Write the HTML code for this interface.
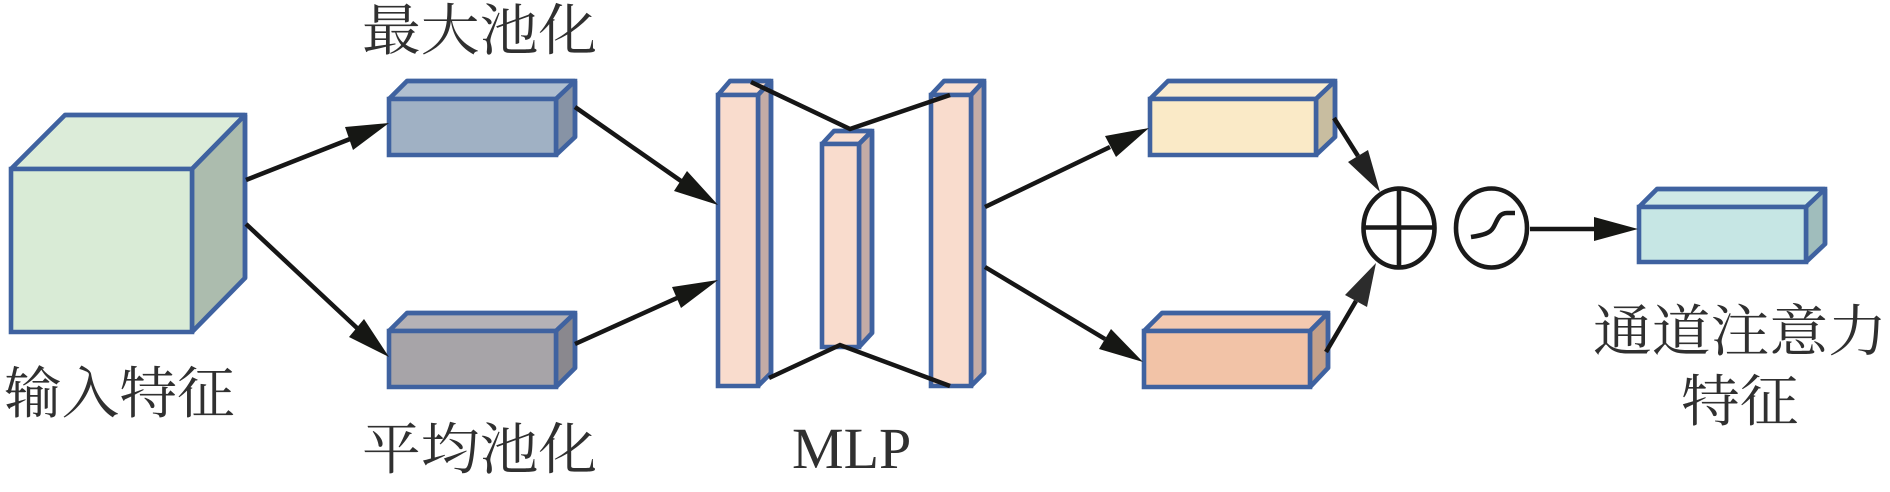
<!DOCTYPE html>
<html lang="zh"><head><meta charset="utf-8"><title>通道注意力</title>
<style>html,body{margin:0;padding:0;background:#fff;width:1890px;height:492px;overflow:hidden}svg{display:block}
text{font-family:"Liberation Serif","Noto Serif CJK SC",serif;fill:#303030}
.b polygon{stroke:#3f62a0;stroke-width:4.6;stroke-linejoin:miter;stroke-miterlimit:1.5}
.b polyline{stroke:#3f62a0;stroke-width:4.6;fill:none;stroke-linejoin:miter}
.l{stroke:#161616;stroke-width:4.5;fill:none}
.h{fill:#161714;stroke:none}
</style></head><body>
<svg width="1890" height="492" viewBox="0 0 1890 492" xmlns="http://www.w3.org/2000/svg">
<!-- cube -->
<g class="b">
<polygon fill="#dcecd9" points="11,169 65,115 245,115 192,169"/>
<polygon fill="#acbcae" points="192,169 245,115 245,278 192,332"/>
<polygon fill="#d9ebd6" points="11,169 192,169 192,332 11,332"/>
<polyline points="65,115 245,115 245,278"/>
</g>
<!-- box1 -->
<g class="b">
<polygon fill="#b0bfd0" points="389,99 407,81 575,81 556,99"/>
<polygon fill="#8793a5" points="556,99 575,81 575,137 556,155"/>
<polygon fill="#a0b1c4" points="389,99 556,99 556,155 389,155"/>
<polyline points="407,81 575,81 575,137"/>
</g>
<!-- box2 -->
<g class="b">
<polygon fill="#b5b2b6" points="389,331 407,313 575,313 556,331"/>
<polygon fill="#8a888e" points="556,331 575,313 575,368 556,387"/>
<polygon fill="#a7a4a8" points="389,331 556,331 556,387 389,387"/>
<polyline points="407,313 575,313 575,368"/>
</g>
<!-- bar1 -->
<g class="b">
<polygon fill="#fadfd0" points="718,95 730,81 771,81 758,95"/>
<polygon fill="#c4aca6" points="758,95 771,81 771,373 758,386"/>
<polygon fill="#f9dccd" points="718,95 758,95 758,386 718,386"/>
<polyline points="730,81 771,81 771,373"/>
</g>
<!-- bar2 -->
<g class="b">
<polygon fill="#fadfd0" points="822,144 834,131 872,131 859,144"/>
<polygon fill="#c4aca6" points="859,144 872,131 872,333 859,347"/>
<polygon fill="#f9dccd" points="822,144 859,144 859,347 822,347"/>
<polyline points="834,131 872,131 872,333"/>
</g>
<!-- bar3 -->
<g class="b">
<polygon fill="#fadfd0" points="931,95 944,81 984,81 971,95"/>
<polygon fill="#c4aca6" points="971,95 984,81 984,373 971,386"/>
<polygon fill="#f9dccd" points="931,95 971,95 971,386 931,386"/>
<polyline points="944,81 984,81 984,373"/>
</g>
<!-- box3 -->
<g class="b">
<polygon fill="#faecd0" points="1150,99 1168,81 1335,81 1316,99"/>
<polygon fill="#c8bda0" points="1316,99 1335,81 1335,137 1316,155"/>
<polygon fill="#faeac7" points="1150,99 1316,99 1316,155 1150,155"/>
<polyline points="1168,81 1335,81 1335,137"/>
</g>
<!-- box4 -->
<g class="b">
<polygon fill="#f3c9b0" points="1144,331 1162,313 1328,313 1310,331"/>
<polygon fill="#c3a08a" points="1310,331 1328,313 1328,368 1310,387"/>
<polygon fill="#f2c3a7" points="1144,331 1310,331 1310,387 1144,387"/>
<polyline points="1162,313 1328,313 1328,368"/>
</g>
<!-- box5 -->
<g class="b">
<polygon fill="#cfe9e7" points="1639,207 1657,189 1825,189 1806,207"/>
<polygon fill="#a0bdbc" points="1806,207 1825,189 1825,244 1806,262"/>
<polygon fill="#c6e6e4" points="1639,207 1806,207 1806,262 1639,262"/>
<polyline points="1657,189 1825,189 1825,244"/>
</g>
<!-- arrows -->
<line class="l" x1="246" y1="180" x2="350" y2="139"/><polygon class="h" points="389,123 345,127 353,150"/>
<line class="l" x1="246" y1="224" x2="357" y2="328"/><polygon class="h" points="389,357 364,319 349,337"/>
<line class="l" x1="575" y1="107" x2="681" y2="181"/><polygon class="h" points="718,205 687,171 674,191"/>
<line class="l" x1="575" y1="344" x2="677" y2="298"/><polygon class="h" points="718,280 672,287 681,308"/>
<line class="l" x1="985" y1="207" x2="1110" y2="147"/><polygon class="h" points="1149,128 1105,136 1116,157"/>
<line class="l" x1="985" y1="267" x2="1105" y2="339"/><polygon class="h" points="1143,362 1111,329 1099,349"/>
<polyline class="l" points="751,82 850,129 950,95"/>
<polyline class="l" points="769,378 840,345 950,386"/>
<line class="l" x1="1334" y1="118" x2="1358" y2="156"/><polygon class="h" points="1380,192 1348,162 1368,150" style="fill:#222"/>
<line class="l" x1="1326" y1="352" x2="1356" y2="301"/><polygon class="h" points="1376,263 1345,295 1367,307" style="fill:#2c2c2c"/>
<line class="l" x1="1530" y1="229" x2="1596" y2="229"/><polygon class="h" points="1638,229 1594,217 1594,241"/>
<!-- operators -->
<g fill="none" stroke="#1a1a1a" stroke-width="4.6">
<ellipse cx="1399" cy="228" rx="35.500" ry="39.500"/>
<line x1="1363" y1="227.500" x2="1435" y2="227.500"/>
<line x1="1399" y1="188" x2="1399" y2="268"/>
<ellipse cx="1491.500" cy="228" rx="35.500" ry="39.500"/>
<path d="M1471,237 C1484,235 1490,233 1493,228 C1497,222 1498,213 1507,213 L1515,213"/>
</g>
<!-- labels -->
<text font-size="56" transform="translate(362,50) scale(1.05,1)">最大池化</text>
<text font-size="56" transform="translate(362,469) scale(1.05,1)">平均池化</text>
<text font-size="56" transform="translate(4,413) scale(1.03,1)">输入特征</text>
<text font-size="56" transform="translate(1593,351) scale(1.05,1)">通道注意力</text>
<text font-size="56" transform="translate(1681,421) scale(1.05,1)">特征</text>
<text font-size="58" transform="translate(792,468)">MLP</text>
</svg>
</body></html>
